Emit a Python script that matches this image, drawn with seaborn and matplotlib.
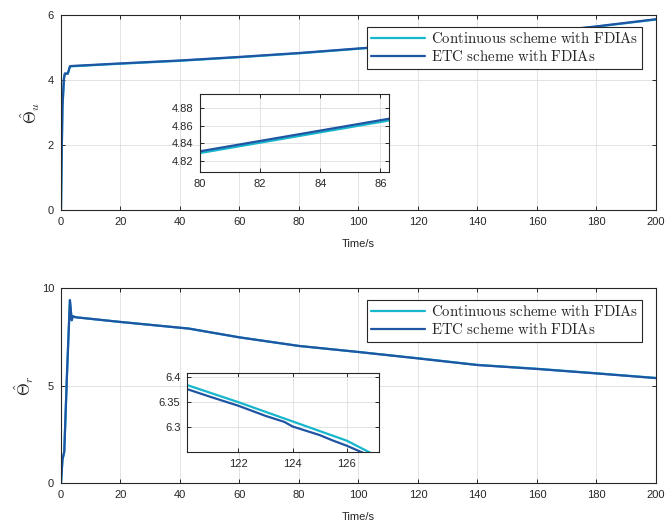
import numpy as np
import matplotlib
matplotlib.use("Agg")
import matplotlib.pyplot as plt
import seaborn as sns

# estimated curves
t_u = [0, 0.2, 0.5, 1.0, 1.3, 2.3, 3.0, 3.5, 20, 40, 60, 80, 100, 120, 140, 160, 180, 200]
theta_u_etc = [0, 1.5, 3.2, 4.05, 4.2, 4.2, 4.42, 4.43, 4.51, 4.6, 4.71, 4.83, 4.97, 5.11, 5.27, 5.45, 5.65, 5.87]
theta_u_cont = [0, 1.45, 3.15, 4.03, 4.19, 4.19, 4.41, 4.42, 4.50, 4.59, 4.70, 4.82, 4.96, 5.10, 5.26, 5.44, 5.64, 5.86]

t_r = [0, 0.5, 1.1, 2.0, 3.0, 3.6, 4.0, 5, 20, 43, 60, 80, 100, 120, 140, 160, 180, 200]
theta_r_etc = [0, 1.2, 1.6, 5.5, 9.38, 8.35, 8.55, 8.5, 8.26, 7.92, 7.47, 7.03, 6.72, 6.39, 6.05, 5.85, 5.62, 5.38]
theta_r_cont = [0, 1.2, 1.6, 5.5, 9.38, 8.35, 8.55, 8.5, 8.26, 7.92, 7.47, 7.03, 6.72, 6.40, 6.06, 5.86, 5.63, 5.39]

# zoomed windows
tz_u = [80, 86.3]
zu_etc = [4.831, 4.868]
zu_cont = [4.829, 4.866]

tz_r_cont = [120.1, 122, 124, 126, 127.2]
zr_cont = [6.384, 6.350, 6.312, 6.274, 6.241]
tz_r_etc = [120.1, 121, 122, 123, 123.7, 124, 125, 125.5, 126, 127.2]
zr_etc = [6.376, 6.360, 6.343, 6.323, 6.311, 6.302, 6.285, 6.274, 6.264, 6.236]

labels = [r"$\mathrm{Continuous\ scheme\ with\ FDIAs}$", r"$\mathrm{ETC\ scheme\ with\ FDIAs}$"]
c_cont = "#16b6cc"
c_etc = "#1f55a3"

sns.set_theme(style="ticks")
plt.rcParams['font.family'] = ['Liberation Sans', 'DejaVu Sans']
plt.rcParams['mathtext.fontset'] = 'cm'

fig = plt.figure(figsize=(6.65, 5.26), dpi=100)


def style(ax, fs=8):
    ax.grid(True, color="#dedede", lw=0.6)
    ax.set_axisbelow(True)
    ax.tick_params(direction="in", top=True, right=True, labelsize=fs,
                   length=3, width=0.7, colors="#262626", pad=5)
    for s in ax.spines.values():
        s.set_color("#262626")
        s.set_linewidth(0.8)


def add_legend(ax):
    leg = ax.legend(loc="upper right", bbox_to_anchor=(0.977, 0.94), borderaxespad=0,
                    fancybox=False, edgecolor="#262626", fontsize=10.7, handlelength=3.6,
                    borderpad=0.3, labelspacing=0.2, handletextpad=0.4, framealpha=1)
    leg.get_frame().set_linewidth(0.8)


# --- top panel ---
ax1 = fig.add_axes([0.0917, 0.6008, 0.8947, 0.3707])
sns.lineplot(x=t_u, y=theta_u_cont, ax=ax1, color=c_cont, lw=1.6, label=labels[0], sort=False)
sns.lineplot(x=t_u, y=theta_u_etc, ax=ax1, color=c_etc, lw=1.6, label=labels[1], sort=False)
ax1.set_xlim(0, 200)
ax1.set_ylim(0, 6)
ax1.set_xticks(range(0, 201, 20))
ax1.set_yticks([0, 2, 4, 6])
style(ax1)
ax1.set_xlabel("Time/s", fontsize=8, labelpad=9)
ax1.set_ylabel(r"$\hat{\Theta}_u$", fontsize=12, labelpad=4)
add_legend(ax1)

ins1 = fig.add_axes([0.3008, 0.673, 0.2847, 0.1483])
sns.lineplot(x=tz_u, y=zu_cont, ax=ins1, color=c_cont, lw=1.6, legend=False)
sns.lineplot(x=tz_u, y=zu_etc, ax=ins1, color=c_etc, lw=1.6, legend=False)
ins1.set_xlim(80, 86.3)
ins1.set_ylim(4.8075, 4.896)
ins1.set_xticks([80, 82, 84, 86])
ins1.set_yticks([4.82, 4.84, 4.86, 4.88])
style(ins1)
ins1.set_xlabel("")
ins1.set_ylabel("")

# --- bottom panel ---
ax2 = fig.add_axes([0.0917, 0.0817, 0.8947, 0.3707])
sns.lineplot(x=t_r, y=theta_r_cont, ax=ax2, color=c_cont, lw=1.6, label=labels[0], sort=False)
sns.lineplot(x=t_r, y=theta_r_etc, ax=ax2, color=c_etc, lw=1.6, label=labels[1], sort=False)
ax2.set_xlim(0, 200)
ax2.set_ylim(0, 10)
ax2.set_xticks(range(0, 201, 20))
ax2.set_yticks([0, 5, 10])
style(ax2)
ax2.set_xlabel("Time/s", fontsize=8, labelpad=9)
ax2.set_ylabel(r"$\hat{\Theta}_r$", fontsize=12, labelpad=4)
add_legend(ax2)

ins2 = fig.add_axes([0.2817, 0.1401, 0.2887, 0.1502])
sns.lineplot(x=tz_r_cont, y=zr_cont, ax=ins2, color=c_cont, lw=1.6, legend=False)
sns.lineplot(x=tz_r_etc, y=zr_etc, ax=ins2, color=c_etc, lw=1.6, legend=False)
ins2.set_xlim(120.12, 127.2)
ins2.set_ylim(6.251, 6.407)
ins2.set_xticks([122, 124, 126])
ins2.set_yticks([6.3, 6.35, 6.4])
ins2.set_yticklabels(["6.3", "6.35", "6.4"])
style(ins2)
ins2.set_xlabel("")
ins2.set_ylabel("")

fig.savefig("out.png", dpi=100)
